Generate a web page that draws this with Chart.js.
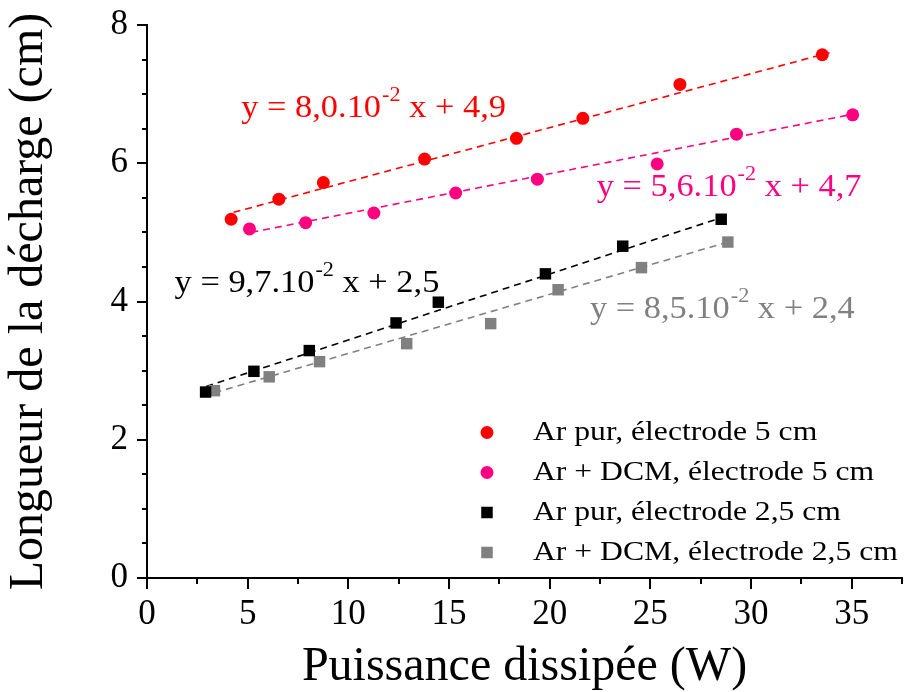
<!DOCTYPE html>
<html lang="fr">

<head>
	<meta charset="UTF-8" />
	<title>Longueur de la décharge</title>
	<script src="https://cdn.jsdelivr.net/npm/chart.js@4.4.1/dist/chart.umd.min.js"></script>
	<style>
		body { margin: 0; background: #fff; }
		canvas { display: block; }
	</style>
</head>

<body>
	<canvas id="myChart" width="904" height="692"></canvas>

	<script>
		// values
		const labels = [
			'Ar pur, électrode 5 cm',
			'Ar + DCM, électrode 5 cm',
			'Ar pur, électrode 2,5 cm',
			'Ar + DCM, électrode 2,5 cm'
		];

		const xArPur5 = [4.18, 6.55, 8.76, 13.79, 18.35, 21.65, 26.47, 33.54];
		const yArPur5 = [5.19, 5.48, 5.72, 6.06, 6.36, 6.65, 7.14, 7.57];

		const xDcm5 = [5.09, 7.88, 11.27, 15.33, 19.39, 25.34, 29.28, 35.05];
		const yDcm5 = [5.05, 5.14, 5.28, 5.57, 5.77, 5.99, 6.42, 6.70];

		const xArPur25 = [2.91, 5.31, 8.06, 12.37, 14.47, 19.79, 23.63, 28.52];
		const yArPur25 = [2.69, 2.99, 3.29, 3.69, 3.99, 4.40, 4.80, 5.19];

		const xDcm25 = [3.35, 6.07, 8.57, 12.90, 17.07, 20.42, 24.56, 28.85];
		const yDcm25 = [2.71, 2.91, 3.13, 3.39, 3.68, 4.17, 4.49, 4.86];

		// ends of the dashed fit lines
		const fitX = [[4.3, 33.9], [5.18, 35.25], [2.94, 28.5], [3.35, 28.85]];
		const fitY = [[5.29, 7.60], [5.00, 6.72], [2.77, 5.21], [2.68, 4.86]];

		// fit equations: main part, exponent, end
		const eqMain = ['y = 8,0.10', 'y = 5,6.10', 'y = 9,7.10', 'y = 8,5.10'];
		const eqSup = ['-2', '-2', '-2', '-2'];
		const eqRest = [' x + 4,9', ' x + 4,7', ' x + 2,5', ' x + 2,4'];

		const xTitle = 'Puissance dissipée (W)';
		const yTitle = 'Longueur de la décharge (cm)';

		const colors = ['#ff0000', '#ff0080', '#000000', '#808080'];
		const styles = ['circle', 'circle', 'rect', 'rect'];
		const radii = [6.5, 6.5, 8.1, 8.1];
		const serif = "'Liberation Serif', 'Times New Roman', serif";

		const xs = [xArPur5, xDcm5, xArPur25, xDcm25];
		const ys = [yArPur5, yDcm5, yArPur25, yDcm25];

		function toPoints(xa, ya) {
			return xa.map((x, i) => ({ x: x, y: ya[i] }));
		}

		const datasets = [];
		xs.forEach((xa, i) => {
			datasets.push({
				label: labels[i],
				data: toPoints(xa, ys[i]),
				showLine: false,
				pointStyle: styles[i],
				pointRadius: radii[i],
				pointHoverRadius: radii[i],
				pointBackgroundColor: colors[i],
				pointBorderWidth: 0,
				order: 0
			});
		});
		fitX.forEach((fx, i) => {
			datasets.push({
				label: 'fit ' + i,
				data: toPoints(fx, fitY[i]),
				showLine: true,
				borderColor: colors[i],
				borderWidth: 1.6,
				borderDash: [7, 5],
				pointRadius: 0,
				order: 1
			});
		});

		// the plot area is fixed by layout.padding, not by label overflow
		function fixScale(s, size) {
			if (s.isHorizontal()) s.height = size; else s.width = size;
			s.paddingTop = 0;
			s.paddingBottom = 0;
			s.paddingLeft = 0;
			s.paddingRight = 0;
		}

		// axis tick marks: long ones at labelled values, short ones between
		const tickMarks = {
			id: 'tickMarks',
			afterDraw(chart) {
				const { ctx, chartArea: a, scales: { x, y } } = chart;
				ctx.save();
				ctx.strokeStyle = '#000';
				ctx.lineWidth = 2;
				ctx.beginPath();
				x.ticks.forEach(t => {
					const px = Math.round(x.getPixelForValue(t.value));
					const len = Math.abs(t.value % 5) < 1e-6 ? 11 : 6;
					ctx.moveTo(px, a.bottom);
					ctx.lineTo(px, a.bottom + len);
				});
				y.ticks.forEach(t => {
					const py = Math.round(y.getPixelForValue(t.value));
					const len = Math.abs(t.value % 2) < 1e-6 ? 10 : 5;
					ctx.moveTo(a.left, py);
					ctx.lineTo(a.left - len, py);
				});
				ctx.stroke();
				ctx.restore();
			}
		};

		// equations and legend
		const notes = {
			id: 'notes',
			afterDraw(chart) {
				const { ctx, scales: { x, y } } = chart;
				// anchor (left, baseline) of each equation, in data units
				const eqAt = [[4.68, 6.67], [22.34, 5.52], [1.37, 4.14], [22.0, 3.76]];
				const sx = 1.11;
				ctx.save();
				ctx.textBaseline = 'alphabetic';
				ctx.textAlign = 'left';
				eqAt.forEach((p, i) => {
					let px = x.getPixelForValue(p[0]);
					const py = y.getPixelForValue(p[1]);
					ctx.fillStyle = colors[i];
					ctx.font = '31px ' + serif;
					const w1 = ctx.measureText(eqMain[i]).width * sx;
					ctx.save(); ctx.translate(px, py); ctx.scale(sx, 1);
					ctx.fillText(eqMain[i], 0, 0); ctx.restore();
					px += w1 + 1;
					ctx.font = '20px ' + serif;
					const w2 = ctx.measureText(eqSup[i]).width * sx;
					ctx.save(); ctx.translate(px, py - 16); ctx.scale(sx, 1);
					ctx.fillText(eqSup[i], 0, 0); ctx.restore();
					px += w2;
					ctx.font = '31px ' + serif;
					ctx.save(); ctx.translate(px, py); ctx.scale(sx, 1);
					ctx.fillText(eqRest[i], 0, 0); ctx.restore();
				});

				// legend
				const lx = 487, tx = 533, top = 432.5, step = 40;
				ctx.textBaseline = 'middle';
				ctx.font = '28px ' + serif;
				labels.forEach((lab, i) => {
					const ly = top + i * step;
					ctx.fillStyle = colors[i];
					if (styles[i] === 'circle') {
						ctx.beginPath();
						ctx.arc(lx, ly, 6.5, 0, Math.PI * 2);
						ctx.fill();
					} else {
						ctx.fillRect(lx - 5.75, ly - 5.75, 11.5, 11.5);
					}
					ctx.fillStyle = '#000';
					ctx.save(); ctx.translate(tx, ly); ctx.scale(1.13, 1);
					ctx.fillText(lab, 0, 0); ctx.restore();
				});
				ctx.restore();
			}
		};

		const ctx = document.getElementById('myChart').getContext('2d');
		const myChart = new Chart(ctx, {
			type: 'scatter',
			data: { datasets: datasets },
			plugins: [tickMarks, notes],
			options: {
				responsive: false,
				animation: false,
				devicePixelRatio: 1,
				layout: {
					autoPadding: false,
					padding: { top: 25, right: 2, left: 0, bottom: 0 }
				},
				plugins: {
					legend: { display: false },
					tooltip: { enabled: false }
				},
				scales: {
					x: {
						type: 'linear',
						min: 0,
						max: 37.5,
						afterFit: s => fixScale(s, 114),
						grid: { display: false, drawTicks: false },
						border: { display: true, color: '#000', width: 2 },
						ticks: {
							stepSize: 2.5,
							padding: 16,
							color: '#000',
							font: { family: serif, size: 35 },
							maxRotation: 0,
							autoSkip: false,
							callback: v => (Math.abs(v % 5) < 1e-6 ? String(v) : '')
						},
						title: {
							display: true,
							text: xTitle,
							color: '#000',
							font: { family: serif, size: 48, lineHeight: 1 },
							padding: { top: 0, bottom: 1 }
						}
					},
					y: {
						type: 'linear',
						min: 0,
						max: 8,
						afterFit: s => fixScale(s, 147),
						grid: { display: false, drawTicks: false },
						border: { display: true, color: '#000', width: 2 },
						ticks: {
							stepSize: 0.5,
							padding: 19,
							color: '#000',
							font: { family: serif, size: 35 },
							autoSkip: false,
							callback: v => (Math.abs(v % 2) < 1e-6 ? String(v) : '')
						},
						title: {
							display: true,
							text: yTitle,
							color: '#000',
							font: { family: serif, size: 48, lineHeight: 1 },
							padding: { top: 5, bottom: 0 }
						}
					}
				}
			}
		});
	</script>
</body>

</html>
